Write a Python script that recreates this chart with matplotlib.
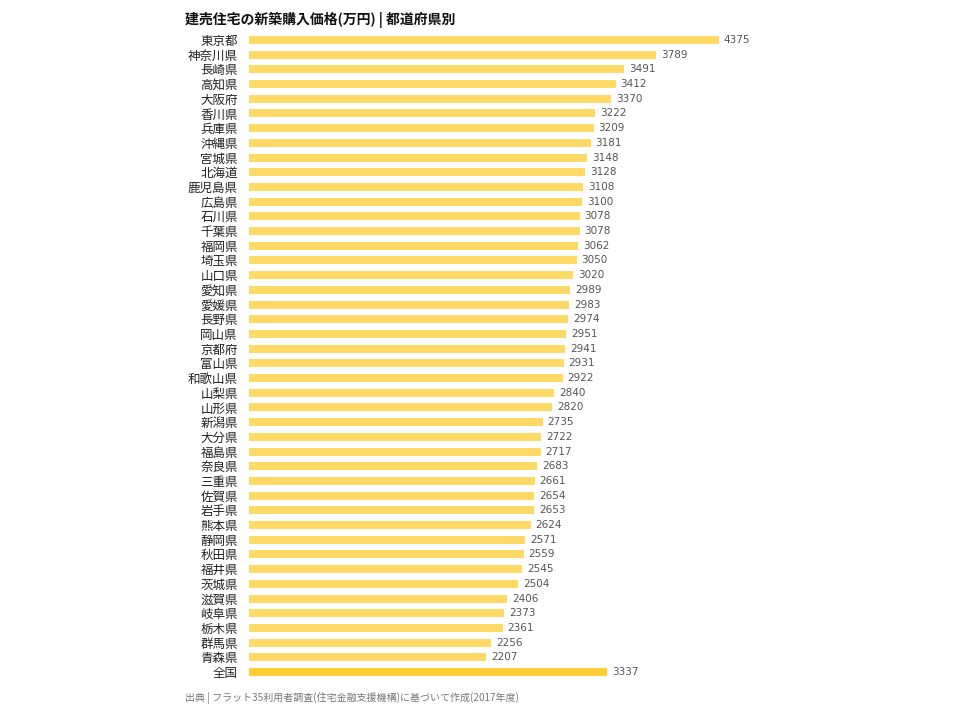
import matplotlib
matplotlib.use("Agg")
import matplotlib.pyplot as plt

plt.rcParams['font.family'] = ['Noto Sans CJK JP', 'DejaVu Sans']

prefs = ['東京都', '神奈川県', '長崎県', '高知県', '大阪府', '香川県', '兵庫県', '沖縄県',
         '宮城県', '北海道', '鹿児島県', '広島県', '石川県', '千葉県', '福岡県', '埼玉県',
         '山口県', '愛知県', '愛媛県', '長野県', '岡山県', '京都府', '富山県', '和歌山県',
         '山梨県', '山形県', '新潟県', '大分県', '福島県', '奈良県', '三重県', '佐賀県',
         '岩手県', '熊本県', '静岡県', '秋田県', '福井県', '茨城県', '滋賀県', '岐阜県',
         '栃木県', '群馬県', '青森県', '全国']
prices = [4375, 3789, 3491, 3412, 3370, 3222, 3209, 3181,
          3148, 3128, 3108, 3100, 3078, 3078, 3062, 3050,
          3020, 2989, 2983, 2974, 2951, 2941, 2931, 2922,
          2840, 2820, 2735, 2722, 2717, 2683, 2661, 2654,
          2653, 2624, 2571, 2559, 2545, 2504, 2406, 2373,
          2361, 2256, 2207, 3337]

W, H = 960, 720
fig = plt.figure(figsize=(W / 100, H / 100), dpi=100)
x0, x1 = 249, 719
y_top, y_bot = 32.6, 679.4
ax = fig.add_axes([x0 / W, 1 - y_bot / H, (x1 - x0) / W, (y_bot - y_top) / H])

colors = ['#ffd966'] * (len(prefs) - 1) + ['#ffcc33']
ypos = list(range(len(prefs)))
ax.barh(ypos, prices, height=0.55, color=colors)
ax.set_xlim(0, 4375)
ax.set_ylim(len(prefs) - 0.5, -0.5)

for y, v in zip(ypos, prices):
    ax.text(v + 45, y, str(v), va='center', ha='left', fontsize=7.5,
            color='#555555', clip_on=False, family='DejaVu Sans')

ax.set_yticks(ypos)
ax.set_yticklabels(prefs, fontsize=9, color='#222222')
ax.tick_params(axis='y', length=0, pad=8)
ax.set_xticks([])
for s in ax.spines.values():
    s.set_visible(False)

fig.text(185 / W, 1 - 20 / H, '建売住宅の新築購入価格(万円) | 都道府県別',
         fontsize=10, fontweight='bold', color='#111111', va='center', ha='left')
fig.text(185 / W, 1 - 698 / H,
         '出典 | フラット35利用者調査(住宅金融支援機構)に基づいて作成(2017年度)',
         fontsize=7.2, color='#777777', va='center', ha='left')

fig.savefig('out.png', dpi=100)
